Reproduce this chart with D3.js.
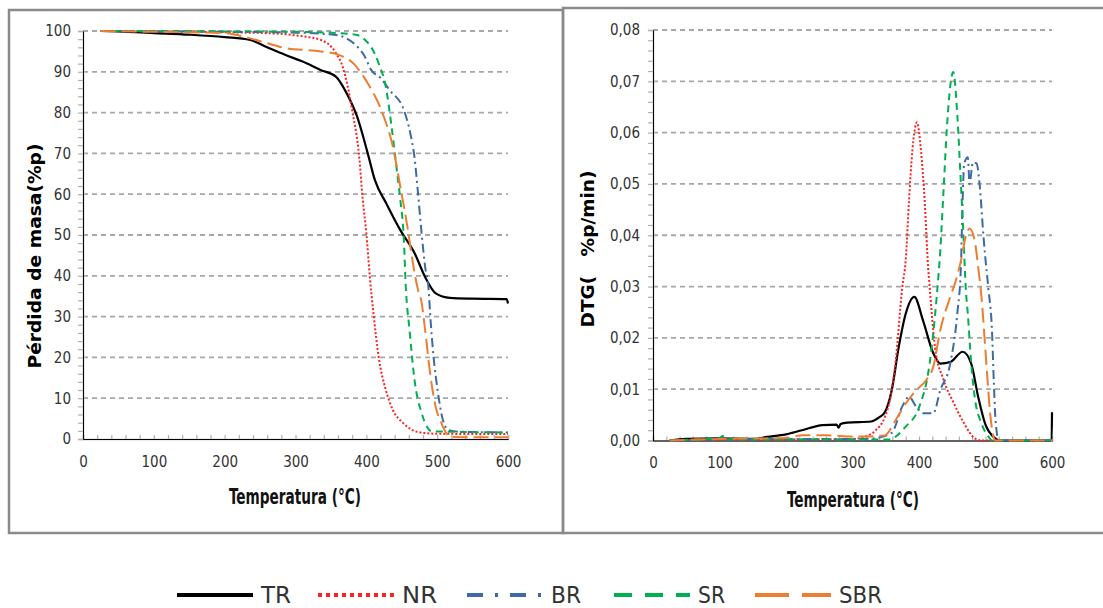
<html>
<head>
    <script src="https://d3js.org/d3.v7.min.js"></script>
    <style>
        body { margin: 0; background: #fff; }
        * { font-family: "Liberation Sans Narrow", "DejaVu Sans Condensed", sans-serif; }
    </style>
</head>
<body>
<svg id="graph" width="1103" height="608"></svg>
<script>
// ---- data: [temperature, value] ----
const seriesNames = ["TR", "NR", "BR", "SR", "SBR"];

// TG curves, mass (%p)
const tgTR = [[25,100],[50,99.9],[100,99.5],[150,99.1],[200,98.5],[236,97.8],[260,96],[286,94.1],[310,92.5],[336,90.4],[357,88.8],[372,84.8],[387,79],[402,70],[412,63.5],[428,57.8],[448,51.2],[468,45.6],[483,39.7],[498,35.7],[518,34.6],[550,34.4],[598,34.3],[600,33.2]];
const tgNR = [[25,100],[100,99.9],[200,99.7],[280,99.3],[310,98.7],[336,97.8],[357,94.6],[367,91],[380,80.6],[390,69],[395,58.6],[400,50.5],[405,39.7],[410,30.9],[417.5,20],[427.5,12],[437.5,7.1],[452,3.9],[473,1.7],[498,1.3],[600,1.2]];
const tgBR = [[25,100],[100,99.9],[200,99.8],[300,99.6],[357,99],[382,97],[397,94],[407,90.4],[420,88.5],[433,85.5],[453,80.6],[462,75],[468,69],[473,60.2],[478,50.5],[483,42.2],[488,36.5],[490,30.9],[495,20],[500.6,12],[508,4.7],[516,2.2],[530,1.8],[600,1.6]];
const tgSR = [[25,100],[100,100],[200,99.9],[300,99.8],[360,99.5],[387,99],[400,97.5],[407,96],[417.5,92],[427.5,86.3],[435,77.4],[442.5,66.7],[448,58.6],[453,48.8],[455.5,38],[461,26.7],[468,14.5],[478,6.4],[486,2.9],[492,1.9],[600,1.6]];
const tgSBR = [[25,100],[100,99.8],[200,99.5],[236,98.2],[260,97],[286,95.8],[336,95],[362,94.1],[382,92],[402,87.2],[422.5,80],[437.5,71.6],[448,61.8],[458,52],[465,43.9],[473,36.5],[478,33.5],[483,26.7],[490,16.2],[498,7.8],[506,3.9],[513,1.4],[518,0.5],[600,0.4]];

// DTG curves (%p/min)
const dtgTR = [[25,0],[50,0.0003],[100,0.0004],[150,0.0003],[172,0.0007],[200,0.0012],[224,0.002],[255,0.003],[276,0.0031],[279,0.0025],[282,0.0032],[292,0.0035],[328,0.0037],[340,0.0045],[349,0.0056],[359,0.0098],[369.5,0.0182],[380,0.0247],[393,0.028],[406,0.0234],[421.5,0.017],[432,0.015],[447,0.0153],[465.6,0.0173],[478.5,0.015],[489,0.0085],[499.4,0.0033],[515,0.0004],[520,0],[599.5,0],[600,0.0055]];
const dtgNR = [[25,0],[100,0.0002],[200,0.0002],[300,0.0003],[317.6,0.0007],[335,0.002],[348.7,0.0046],[358,0.009],[364.5,0.015],[375,0.03],[380,0.0351],[385,0.0468],[390,0.0565],[397,0.062],[403,0.0565],[408.5,0.0468],[413.7,0.0338],[416,0.03],[424,0.0182],[437,0.0118],[452.6,0.0072],[468,0.0033],[484,0.0004],[494,0],[600,0]];
const dtgBR = [[25,0],[100,0.0002],[200,0.0003],[300,0.0003],[330,0.0004],[359,0.0015],[374.7,0.0066],[385,0.0085],[395.6,0.0066],[406,0.0053],[421.5,0.0053],[432,0.0098],[447,0.015],[457.8,0.025],[463,0.0338],[465.6,0.0468],[468,0.054],[473.4,0.0552],[476,0.05],[481,0.0542],[486.5,0.054],[491.5,0.0494],[496.8,0.04],[502,0.0326],[504.6,0.0293],[509.7,0.0215],[512.4,0.0118],[515,0.0041],[520,0],[600,0]];
const dtgSR = [[25,0],[60,0.0002],[100,0.0005],[105,0.0009],[110,0.0002],[200,0.0002],[300,0.0002],[354,0.0002],[380,0.0027],[400.5,0.0066],[416,0.015],[426.6,0.028],[432,0.037],[437,0.049],[442,0.061],[447.4,0.0695],[451.5,0.0718],[457.8,0.063],[463,0.05],[465.6,0.0435],[470.8,0.0287],[473.4,0.0247],[478.5,0.015],[483.7,0.0085],[494,0.0033],[504.6,0.0007],[510,0],[600,0]];
const dtgSBR = [[25,0],[100,0.0003],[200,0.0005],[224,0.001],[260,0.001],[300,0.0008],[328,0.0008],[348.7,0.001],[364.5,0.0039],[380,0.0072],[395.6,0.0098],[411,0.0118],[421.5,0.0144],[432,0.0215],[447,0.028],[455,0.031],[463,0.035],[470.8,0.04],[476,0.0413],[483.7,0.039],[489,0.0338],[494,0.0279],[502,0.0137],[507,0.0053],[512,0.0007],[515,0],[600,0]];

const xTicks = [0, 100, 200, 300, 400, 500, 600];
const tgTicks = [0, 10, 20, 30, 40, 50, 60, 70, 80, 90, 100];
const dtgTicks = [0, 0.01, 0.02, 0.03, 0.04, 0.05, 0.06, 0.07, 0.08];

// ---- styles per series ----
const colors = { TR: "#000000", NR: "#ff2020", BR: "#3d6aa6", SR: "#00b050", SBR: "#ed7d31" };
const dashes = { TR: null, NR: "2,2", BR: "9,4,2,4", SR: "7,5", SBR: "15,6" };
const legendDashes = { TR: null, NR: "4,4", BR: "16,12,3,12", SR: "18,13", SBR: "34,13" };
const legendTextLen = { TR: 30, NR: 35, BR: 30, SR: 27, SBR: 43 };

let svg = d3.select("svg#graph");

// panel frames
svg.append("rect").attr("x", 9).attr("y", 10).attr("width", 554).attr("height", 523)
    .attr("fill", "none").attr("stroke", "#8a8a8a").attr("stroke-width", 2.5);
svg.append("rect").attr("x", 563).attr("y", 8).attr("width", 560).attr("height", 525)
    .attr("fill", "none").attr("stroke", "#8a8a8a").attr("stroke-width", 2.5);

function drawPanel(opts) {
    const x = d3.scaleLinear().domain([0, 600]).range(opts.xRange);
    const y = d3.scaleLinear().domain(opts.yDomain).range(opts.yRange);
    const g = svg.append("g");

    // dashed grid
    g.selectAll("line.grid").data(opts.yTicks.slice(1)).join("line")
        .attr("class", "grid")
        .attr("x1", x(0)).attr("x2", x(600))
        .attr("y1", d => y(d)).attr("y2", d => y(d))
        .attr("stroke", "#a8a8a8").attr("stroke-width", 1.8).attr("stroke-dasharray", "5,4");

    // minor ticks on y (outward) and x (upward)
    let yMinor = d3.axisLeft(y).tickValues(d3.range(opts.yDomain[0], opts.yDomain[1] + opts.yMinor / 2, opts.yMinor)).tickSize(5).tickFormat("");
    let yAx = g.append("g").attr("transform", `translate(${x(0)},0)`).call(yMinor);
    let xMinor = d3.axisBottom(x).tickValues(d3.range(0, 601, 20)).tickSize(-4).tickFormat("");
    let xAx = g.append("g").attr("transform", `translate(0,${y(0)})`).call(xMinor);
    [yAx, xAx].forEach(a => {
        a.selectAll("line").attr("stroke", "#b0b0b0").attr("stroke-width", 1.2);
        a.select(".domain").attr("stroke", "#b0b0b0").attr("stroke-width", 1.5);
    });

    // tick labels
    let yLab = d3.axisLeft(y).tickValues(opts.yTicks).tickSize(0).tickPadding(opts.yPad).tickFormat(opts.fmt);
    g.append("g").attr("transform", `translate(${x(0)},0)`).call(yLab);
    let xLab = d3.axisBottom(x).tickValues(xTicks).tickSize(0).tickPadding(17);
    g.append("g").attr("transform", `translate(0,${y(0)})`).call(xLab);
    g.selectAll(".tick text").style("font-family", "Liberation Sans Narrow, DejaVu Sans Condensed, sans-serif")
        .style("font-size", "15px").attr("fill", "#333");
    g.selectAll(".domain").filter(function () { return !this.parentNode.querySelector("line"); }).remove();

    // curves
    const line = d3.line().x(d => x(d[0])).y(d => y(d[1])).curve(d3.curveMonotoneX);
    opts.series.forEach((s, i) => {
        const name = seriesNames[i];
        g.append("path").datum(s)
            .attr("d", line)
            .attr("fill", "none")
            .attr("stroke", colors[name])
            .attr("stroke-width", name === "TR" ? 2.2 : 2)
            .attr("stroke-dasharray", dashes[name]);
    });

    // axis titles
    g.append("text")
        .attr("x", opts.xTitle[0]).attr("y", opts.xTitle[1])
        .attr("text-anchor", "middle")
        .attr("textLength", 132).attr("lengthAdjust", "spacingAndGlyphs")
        .style("font-size", "22px").style("font-weight", "bold").attr("fill", "#111")
        .text("Temperatura (°C)");
    g.append("text")
        .attr("transform", `translate(${opts.yTitle[0]},${opts.yTitle[1]}) rotate(-90)`)
        .attr("text-anchor", "middle")
        .attr("textLength", opts.yTitleLen).attr("lengthAdjust", "spacingAndGlyphs")
        .style("font-family", "DejaVu Sans, sans-serif")
        .style("font-size", "17px").style("font-weight", "bold").style("white-space", "pre")
        .attr("fill", "#000")
        .text(opts.yTitleText);
}

drawPanel({
    xRange: [83, 508], yDomain: [0, 100], yRange: [439, 31], yTicks: tgTicks, yMinor: 2,
    yPad: 12, fmt: d3.format("d"), series: [tgTR, tgNR, tgBR, tgSR, tgSBR],
    xTitle: [295, 504], yTitle: [41, 256], yTitleLen: 225, yTitleText: "Pérdida de masa(%p)"
});
drawPanel({
    xRange: [653, 1052], yDomain: [0, 0.08], yRange: [440.5, 30], yTicks: dtgTicks, yMinor: 0.002,
    yPad: 13, fmt: d => d3.format(".2f")(d).replace(".", ","), series: [dtgTR, dtgNR, dtgBR, dtgSR, dtgSBR],
    xTitle: [853, 507], yTitle: [594, 249], yTitleLen: 157, yTitleText: "DTG(   %p/min)"
});

// legend
const legendX = [177, 318, 467, 614, 755];
const legend = svg.append("g");
seriesNames.forEach((name, i) => {
    legend.append("line")
        .attr("x1", legendX[i]).attr("x2", legendX[i] + 76)
        .attr("y1", 595).attr("y2", 595)
        .attr("stroke", colors[name]).attr("stroke-width", 4)
        .attr("stroke-dasharray", legendDashes[name]);
    legend.append("text")
        .attr("x", legendX[i] + 84).attr("y", 603)
        .attr("textLength", legendTextLen[name]).attr("lengthAdjust", "spacingAndGlyphs")
        .style("font-size", "23px").attr("fill", "#333")
        .text(name);
});
</script>
</body>
</html>
